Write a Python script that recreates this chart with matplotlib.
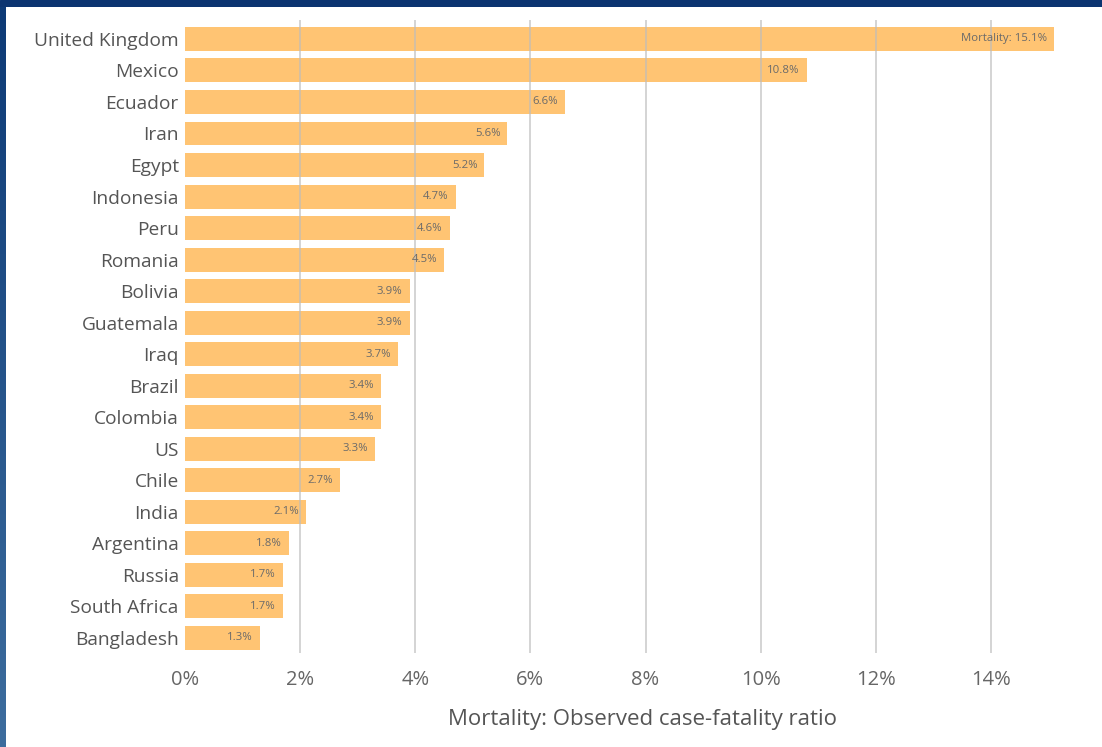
import matplotlib
matplotlib.use("Agg")
import matplotlib.pyplot as plt
import numpy as np
from matplotlib.patches import Rectangle
from matplotlib.colors import LinearSegmentedColormap

countries = ["United Kingdom", "Mexico", "Ecuador", "Iran", "Egypt", "Indonesia",
             "Peru", "Romania", "Bolivia", "Guatemala", "Iraq", "Brazil",
             "Colombia", "US", "Chile", "India", "Argentina", "Russia",
             "South Africa", "Bangladesh"]
mortality = [15.1, 10.8, 6.6, 5.6, 5.2, 4.7, 4.6, 4.5, 3.9, 3.9, 3.7, 3.4,
             3.4, 3.3, 2.7, 2.1, 1.8, 1.7, 1.7, 1.3]
xticks = [0, 2, 4, 6, 8, 10, 12, 14]
xtick_labels = ["0%", "2%", "4%", "6%", "8%", "10%", "12%", "14%"]

W, H = 1102, 747
fig = plt.figure(figsize=(W / 100, H / 100), dpi=100)
fig.patch.set_facecolor("white")

# Frame: navy strip on top, blue gradient strip on the left
top = fig.add_axes([0, 1 - 7 / H, 1, 7 / H])
top.set_axis_off()
top.add_patch(Rectangle((0, 0), 1, 1, color="#0b3470", transform=top.transAxes))
left = fig.add_axes([0, 0, 6 / W, 1 - 7 / H])
left.set_axis_off()
grad = np.linspace(0, 1, 256).reshape(-1, 1)
cm = LinearSegmentedColormap.from_list("edge", ["#0d3a76", "#3d6d9e"])
left.imshow(grad, aspect="auto", cmap=cm, extent=[0, 1, 0, 1])

font = "Open Sans"

# Plot area
x0, x1 = 185, 1100
y_top, y_bot = 20, 653
ax = fig.add_axes([x0 / W, 1 - y_bot / H, (x1 - x0) / W, (y_bot - y_top) / H])
n = len(countries)
ypos = np.arange(n)
ax.set_ylim(n - 1 + 0.48, -0.6)
ax.set_xlim(0, (x1 - x0) / 57.57)

ax.barh(ypos, mortality, height=0.76, color="#ffc473", zorder=2)
for xv in xticks[1:]:
    ax.axvline(xv, color="#bdbdbd", lw=1.2, zorder=3, alpha=0.75)

for i, v in enumerate(mortality):
    txt = f"Mortality: {v}%" if i == 0 else f"{v}%"
    ax.text(v - 0.12, i, txt, ha="right", va="center", fontsize=8.2,
            color="#6a6a6a", family=font, zorder=4)

ax.set_yticks(ypos)
ax.set_yticklabels(countries, family=font, fontsize=13.8, color="#555555")
ax.set_xticks(xticks)
ax.set_xticklabels(xtick_labels, family=font, fontsize=14.5, color="#666666")
ax.tick_params(axis="both", length=0)
ax.tick_params(axis="y", pad=4.5)
ax.tick_params(axis="x", pad=12)
for s in ax.spines.values():
    s.set_visible(False)

fig.text(642 / W, 1 - 719 / H, "Mortality: Observed case-fatality ratio",
         ha="center", va="center", fontsize=16, color="#555555", family=font)

fig.savefig("out.png", dpi=100)
